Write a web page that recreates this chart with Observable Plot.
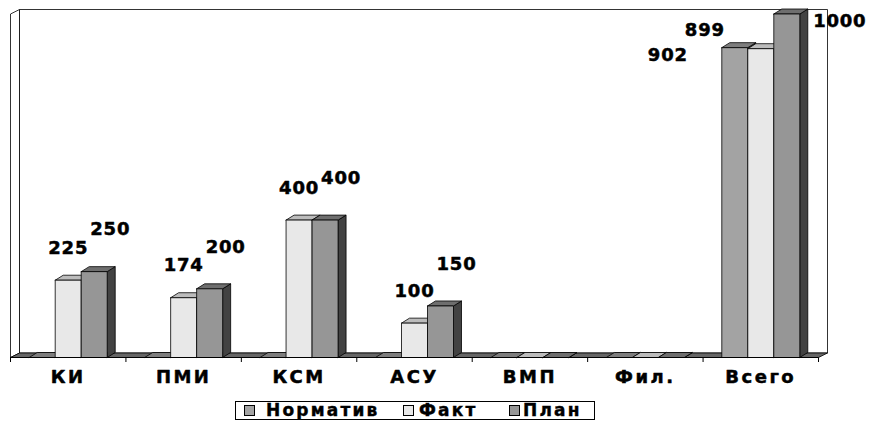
<!DOCTYPE html>
<html>
<head>
<meta charset="utf-8">
<script src="https://cdn.jsdelivr.net/npm/d3@7"></script>
<script src="https://cdn.jsdelivr.net/npm/@observablehq/plot@0.6"></script>
<style>
  body { margin: 0; background: #fff; }
  #chart svg { display: block; }
  #legend { position: relative; margin-left: 235px; margin-top: 3px; width: 358px; height: 17px; border: 1px solid #000; box-sizing: content-box; font: bold 17px "DejaVu Sans", sans-serif; letter-spacing: 2.2px; -webkit-text-stroke: 0.4px #000; }
  #legend .sw { position: absolute; top: 3px; width: 9px; height: 9px; border: 1px solid #000; -webkit-text-stroke: 0; }
  #legend .tx { position: absolute; top: -1px; line-height: 19px; white-space: nowrap; }
</style>
</head>
<body>
<div id="chart"></div>
<div id="legend"></div>
<script>
// ---- data ----
const categories = ["КИ", "ПМИ", "КСМ", "АСУ", "ВМП", "Фил.", "Всего"];
const seriesNames = ["Норматив", "Факт", "План"];
const normativ = [0, 0, 0, 0, 0, 0, 902];
const fakt = [225, 174, 400, 100, 0, 0, 899];
const plan = [250, 200, 400, 150, 0, 0, 1000];
const yMax = 1000;

// ---- styles ----
const faceColors = [
  {front: "#a3a3a3", top: "#7d7d7d", side: "#5a5a5a"},
  {front: "#e8e8e8", top: "#bcbcbc", side: "#8a8a8a"},
  {front: "#969696", top: "#6e6e6e", side: "#424242"}
];
const W = 878, H = 398, ML = 10, MR = 60, MT = 13.5, MB = 41;
const nCat = categories.length;
const xpx = (W - ML - MR) / nCat;       // px per category unit
const ypx = (H - MT - MB) / yMax;       // px per value unit
const BW = 26 / xpx;                    // bar width (x units)
const BDX = 8 / xpx, BDY = 5 / ypx;     // bar depth
const WDX = 9 / xpx, WDY = 4.5 / ypx;   // wall depth

const values = [normativ, fakt, plan];
const polys = [];
let pid = 0;
function poly(fill, pts) {
  const id = pid++;
  pts.concat([pts[0]]).forEach(([x, y]) => polys.push({id, fill, x, y}));
}
// back wall, left wall, floor
poly("#ffffff", [[WDX, WDY], [nCat + WDX, WDY], [nCat + WDX, yMax + WDY], [WDX, yMax + WDY]]);
poly("#ffffff", [[0, 0], [WDX, WDY], [WDX, yMax + WDY], [0, yMax]]);
poly("#666666", [[0, 0], [nCat, 0], [nCat + WDX, WDY], [WDX, WDY]]);

// bars
const barCenter = (i, j) => i + 0.5 + (j - 1) * BW;
categories.forEach((c, i) => {
  values.forEach((arr, j) => {
    const v = arr[i];
    const xl = barCenter(i, j) - BW / 2, xr = xl + BW;
    const col = faceColors[j];
    poly(col.side, [[xr, 0], [xr + BDX, BDY], [xr + BDX, v + BDY], [xr, v]]);
    poly(col.top, [[xl, v], [xr, v], [xr + BDX, v + BDY], [xl + BDX, v + BDY]]);
    poly(col.front, [[xl, 0], [xr, 0], [xr, v], [xl, v]]);
  });
});

// label rows
const rows = [];
categories.forEach((c, i) => values.forEach((arr, j) => {
  if (arr[i] > 0) rows.push({i, j, v: arr[i], total: i === nCat - 1});
}));
const lblFont = {fontFamily: "DejaVu Sans, sans-serif", fontWeight: "bold", fontSize: 18, fill: "#000", stroke: "#000", strokeWidth: 0.5};
const lbl = (filter, dx, dy) => Plot.text(rows.filter(filter), {
  x: d => barCenter(d.i, d.j), y: "v", text: d => String(d.v), dx, dy, ...lblFont
});

const chart = Plot.plot({
  width: W, height: H,
  marginLeft: ML, marginRight: MR, marginTop: MT, marginBottom: MB,
  style: {background: "#fff", overflow: "visible"},
  x: {domain: [0, nCat], ticks: nCat, tickFormat: () => "", tickSize: 5, label: null},
  y: {domain: [0, yMax], axis: null, label: null},
  color: {type: "identity"},
  marks: [
    Plot.line(polys, {x: "x", y: "y", z: "id", fill: "fill", stroke: "#000", strokeWidth: 0.8, curve: "linear"}),
    Plot.ruleY([0], {stroke: "#000", strokeWidth: 1}),
    lbl(d => d.j === 1 && !d.total, 0, -32),
    lbl(d => d.j === 2 && !d.total, 16, -42),
    lbl(d => d.j === 0, -67, 8),
    lbl(d => d.j === 1 && d.total, -56, -18),
    lbl(d => d.j === 2 && d.total, 53, 7),
    Plot.text(categories, {x: (d, i) => i + 0.5, y: () => 0, text: d => d, dy: 20, ...lblFont})
  ]
});
document.getElementById("chart").appendChild(chart);
const tg = chart.querySelectorAll('g[aria-label="text"]');
tg.forEach((g, k) => { g.style.letterSpacing = (k === tg.length - 1) ? "2.5px" : "0.8px"; });

// legend
const legend = document.getElementById("legend");
const swLeft = [8, 167, 273], txLeft = [30, 183, 287];
seriesNames.forEach((s, j) => {
  const sw = document.createElement("div");
  sw.className = "sw"; sw.style.left = swLeft[j] + "px"; sw.style.background = faceColors[j].front;
  const tx = document.createElement("div");
  tx.className = "tx"; tx.style.left = txLeft[j] + "px"; tx.textContent = s;
  legend.appendChild(sw); legend.appendChild(tx);
});
</script>
</body>
</html>
